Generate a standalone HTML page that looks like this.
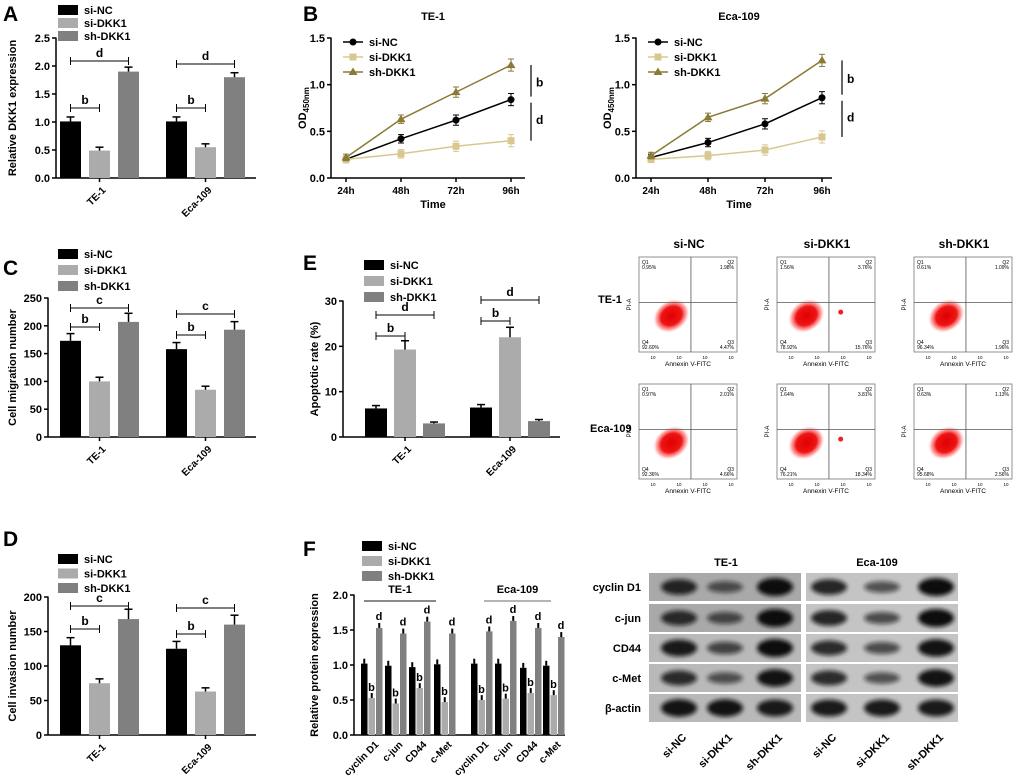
<!DOCTYPE html>
<html><head><meta charset="utf-8">
<style>
html,body{margin:0;padding:0;background:#fff;}
svg{display:block;font-family:"Liberation Sans",Arial,sans-serif;}
text{font-family:"Liberation Sans",Arial,sans-serif;}
</style></head>
<body>
<svg id="fig" width="1020" height="782" viewBox="0 0 1020 782">
<defs>
<radialGradient id="blob" cx="50%" cy="50%" r="50%">
<stop offset="0%" stop-color="#e00000"/><stop offset="55%" stop-color="#ee1515"/><stop offset="80%" stop-color="#f66" stop-opacity="0.55"/><stop offset="100%" stop-color="#fff" stop-opacity="0"/>
</radialGradient>
<filter id="blur" x="-20%" y="-50%" width="140%" height="200%"><feGaussianBlur stdDeviation="2.2"/></filter>
</defs>
</svg>
<script>
// ---------- DATA ----------
const groups = ["si-NC","si-DKK1","sh-DKK1"];
const cellLines = ["TE-1","Eca-109"];
// Panel A
const aTicks = [0,0.5,1.0,1.5,2.0,2.5];
const aNC = [1.01,1.01], aSi = [0.49,0.55], aSh = [1.90,1.80];
const aErr = [0.08,0.06,0.08];
// Panel B
const bTimes = ["24h","48h","72h","96h"];
const bTicks = [0,0.5,1.0,1.5];
const bTE_NC = [0.20,0.42,0.62,0.84], bTE_Si = [0.20,0.26,0.34,0.40], bTE_Sh = [0.22,0.63,0.92,1.21];
const bEca_NC = [0.22,0.38,0.58,0.86], bEca_Si = [0.20,0.24,0.30,0.44], bEca_Sh = [0.24,0.65,0.85,1.26];
// Panel C
const cTicks = [0,50,100,150,200,250];
const cNC = [173,158], cSi = [100,85], cSh = [207,193];
// Panel D
const dTicks = [0,50,100,150,200];
const dNC = [130,125], dSi = [75,63], dSh = [168,160];
// Panel E
const eTicks = [0,10,20,30];
const eNC = [6.3,6.5], eSi = [19.3,22.0], eSh = [3.0,3.5];
// Panel F
const fProteins = ["cyclin D1","c-jun","CD44","c-Met"];
const fTicks = [0,0.5,1.0,1.5,2.0];
const fTE_NC = [1.02,0.99,0.97,1.01], fTE_Si = [0.53,0.45,0.67,0.47], fTE_Sh = [1.53,1.45,1.62,1.45];
const fEca_NC = [1.02,1.02,0.96,0.99], fEca_Si = [0.50,0.52,0.60,0.57], fEca_Sh = [1.48,1.63,1.53,1.40];
// Flow cytometry quadrant percentages [Q1,Q2,Q3,Q4]
const flowTE = [["0.95%","1.98%","4.47%","92.60%"],["1.56%","3.76%","15.76%","78.92%"],["0.61%","1.09%","1.96%","96.34%"]];
const flowEca = [["0.97%","2.01%","4.66%","92.36%"],["1.64%","3.81%","18.34%","76.21%"],["0.63%","1.13%","2.56%","95.68%"]];
// Western blot band intensity (0..1) rows x lanes
const wbRows = ["cyclin D1","c-jun","CD44","c-Met","β-actin"];
const wbTE = [[0.8,0.45,1.0],[0.75,0.5,1.0],[0.9,0.55,1.0],[0.75,0.45,0.95],[0.95,0.95,0.9]];
const wbEca = [[0.8,0.45,1.0],[0.8,0.5,1.0],[0.75,0.5,0.95],[0.75,0.45,0.95],[0.9,0.9,0.9]];

const NS="http://www.w3.org/2000/svg";
const svg=document.getElementById('fig');
const COL=["#000","#ababab","#808080"];
const LCOL=["#000","#d8c890","#8a7a35"];
function el(tag,attrs,parent,txt){const e=document.createElementNS(NS,tag);for(const k in attrs)e.setAttribute(k,attrs[k]);if(txt!==undefined)e.textContent=txt;(parent||svg).appendChild(e);return e;}
function g(name){const e=el('g',{});


return e;}
function line(p,x1,y1,x2,y2,w,c){return el('line',{x1,y1,x2,y2,stroke:c||'#000','stroke-width':w||1.5},p);}
function txt(p,x,y,s,size,anchor,weight,extra){const t=el('text',Object.assign({x,y,'font-size':size,'text-anchor':anchor||'start','font-weight':weight||'bold',fill:'#000'},extra||{}),p,s);return t;}

function panelLetter(ch,x,y){const gg=g('panel-label-'+ch.toLowerCase());txt(gg,x,y,ch,21,'start','bold');}
function legend(name,x,y,dy,cols,lineMode){const gg=g(name);groups.forEach((s,i)=>{
 const item=el('g',{},gg);
 
 
 if(lineMode){line(item,x,y+i*dy,x+20,y+i*dy,1.5,cols[i]);el('path',{d:lineMode[i](x+10,y+i*dy),fill:cols[i]},item);txt(item,x+26,y+i*dy+4,s,11);}
 else{el('rect',{x,y:y+i*dy-5,width:20,height:10,fill:cols[i]},item);txt(item,x+26,y+i*dy+4,s,11);}
});}

function yAxis(p,x,y0,y1,ticks,fmt,label,lx){
 const sc=v=>y0-(v-ticks[0])/(ticks[ticks.length-1]-ticks[0])*(y0-y1);
 line(p,x,y0+0.5,x,y1-0.5,1.5);
 ticks.forEach(t=>{line(p,x-4,sc(t),x,sc(t),1.5);txt(p,x-6,sc(t)+4,fmt(t),11,'end');});
 if(label){const lt=txt(p,lx,(y0+y1)/2,label,11,'middle','bold',{transform:`rotate(-90 ${lx} ${(y0+y1)/2})`});
 }
 return sc;
}
function bracket(p,x1,x2,y,lab){line(p,x1,y,x2,y,1);line(p,x1,y-4,x1,y+4,1);line(p,x2,y-4,x2,y+4,1);txt(p,(x1+x2)/2,y-4,lab,12,'middle');}

function barPanel(name,cfg){
 const p=g(name);
 const sc=yAxis(p,cfg.ax,cfg.y0,cfg.y1,cfg.ticks,cfg.fmt,cfg.ylabel,cfg.lx);
 line(p,cfg.ax,cfg.y0,cfg.axEnd,cfg.y0,1.5);
 const series=[cfg.nc,cfg.si,cfg.sh];
 cellLines.forEach((cl,gi)=>{
  series.forEach((arr,si)=>{
   const x=cfg.gx[gi]+si*cfg.step, v=arr[gi], y=sc(v), e=(cfg.errs?cfg.errs[si]:v*cfg.errFrac);
   const r=el('rect',{x,y,width:cfg.bw,height:cfg.y0-y,fill:COL[si]},p);
   
   
   line(p,x+cfg.bw/2,y,x+cfg.bw/2,sc(v+e),1.5);line(p,x+cfg.bw/2-4,sc(v+e),x+cfg.bw/2+4,sc(v+e),1.5);
  });
  const cx=cfg.gx[gi]+cfg.step+cfg.bw/2;
  line(p,cx,cfg.y0,cx,cfg.y0+4,1.5);
  txt(p,cx+4,cfg.y0+14,cl,10,'end','bold',{transform:`rotate(-45 ${cx+4} ${cfg.y0+10})`});
  const sx=cfg.gx[gi]+cfg.bw/2;
  bracket(p,sx,sx+cfg.step,cfg.bY1[gi],'b');
  bracket(p,sx,sx+cfg.step*2,cfg.bY2[gi],cfg.lab2);
 });
}

// Panel A
panelLetter('A',3,21);
legend('legend-a',58,10,13,COL);
barPanel('panel-a-dkk1-expression',{ax:56,y0:178,y1:38,axEnd:256,ticks:aTicks,fmt:t=>t.toFixed(1),ylabel:'Relative DKK1 expression',lx:16,
 nc:aNC,si:aSi,sh:aSh,errs:aErr,gx:[60,166],step:29,bw:21,bY1:[108,108],bY2:[61,64],lab2:'d'});

// Panel C
panelLetter('C',3,275);
legend('legend-c',58,254,16,COL);
barPanel('panel-c-migration',{ax:48,y0:437,y1:298,axEnd:256,ticks:cTicks,fmt:t=>t,ylabel:'Cell migration number',lx:16,
 nc:cNC,si:cSi,sh:cSh,errFrac:0.075,gx:[60,166],step:29,bw:21,bY1:[327,335],bY2:[308,314],lab2:'c'});

// Panel D
panelLetter('D',3,546);
legend('legend-d',58,559,14.5,COL);
barPanel('panel-d-invasion',{ax:48,y0:735,y1:597,axEnd:256,ticks:dTicks,fmt:t=>t,ylabel:'Cell invasion number',lx:16,
 nc:dNC,si:dSi,sh:dSh,errFrac:0.085,gx:[60,166],step:29,bw:21,bY1:[629,634],bY2:[606,608],lab2:'c'});

// Panel E
panelLetter('E',303,270);
legend('legend-e',364,265,16,COL);
barPanel('panel-e-apoptosis',{ax:343,y0:437,y1:301,axEnd:560,ticks:eTicks,fmt:t=>t,ylabel:'Apoptotic rate (%)',lx:318,
 nc:eNC,si:eSi,sh:eSh,errFrac:0.1,gx:[365,470],step:29,bw:22,bY1:[336,321],bY2:[315,300],lab2:'d'});

// Panel B line charts
panelLetter('B',303,21);
const markers=[(x,y)=>`M${x-3.5},${y}a3.5,3.5 0 1,0 7,0a3.5,3.5 0 1,0 -7,0`,(x,y)=>`M${x-3.5},${y-3.5}h7v7h-7z`,(x,y)=>`M${x},${y-4.5}L${x+4.5},${y+3}L${x-4.5},${y+3}z`];
function linePanel(name,cfg){
 const p=g(name);
 const sc=yAxis(p,cfg.ax,178,38,bTicks,t=>t.toFixed(1),'',cfg.lx);
 const ly=108;
 const tt=el('text',{x:cfg.lx,y:ly,'font-size':11,'font-weight':'bold','text-anchor':'middle',transform:`rotate(-90 ${cfg.lx} ${ly})`},p);
 
 el('tspan',{},tt,'OD');el('tspan',{'font-size':8,dy:3},tt,'450nm');
 line(p,cfg.ax,178,cfg.axEnd,178,1.5);
 const xs=i=>cfg.x0+i*cfg.dx;
 bTimes.forEach((t,i)=>{line(p,xs(i),178,xs(i),182,1.5);txt(p,xs(i),194,t,10,'middle');});
 txt(p,(cfg.ax+cfg.axEnd)/2+5,208,'Time',11,'middle');
 txt(p,(cfg.ax+cfg.axEnd)/2+5,20,cfg.title,11,'middle');
 [cfg.nc,cfg.si,cfg.sh].forEach((arr,si)=>{
  const pl=el('polyline',{points:arr.map((v,i)=>xs(i)+','+sc(v)).join(' '),fill:'none',stroke:LCOL[si],'stroke-width':1.5},p);
  
  
  arr.forEach((v,i)=>{const e=0.035+0.01*i;line(p,xs(i),sc(v-e),xs(i),sc(v+e),1,LCOL[si]);line(p,xs(i)-3,sc(v+e),xs(i)+3,sc(v+e),1,LCOL[si]);line(p,xs(i)-3,sc(v-e),xs(i)+3,sc(v-e),1,LCOL[si]);
   el('path',{d:markers[si](xs(i),sc(v)),fill:LCOL[si]},p);});
 });
 const bx=cfg.x0+3*cfg.dx+20;
 line(p,bx,sc(cfg.sh[3]),bx,sc(cfg.nc[3])-3,1.2);txt(p,bx+5,(sc(cfg.sh[3])+sc(cfg.nc[3]))/2+4,'b',12);
 line(p,bx,sc(cfg.nc[3])+3,bx,sc(cfg.si[3]),1.2);txt(p,bx+5,(sc(cfg.nc[3])+sc(cfg.si[3]))/2+4,'d',12);
 legend(name+'-legend',cfg.x0-3,42,15,LCOL,markers);
}
linePanel('panel-b-te1',{ax:331,axEnd:525,lx:306,x0:346,dx:55,title:'TE-1',nc:bTE_NC,si:bTE_Si,sh:bTE_Sh});
linePanel('panel-b-eca109',{ax:636,axEnd:832,lx:611,x0:651,dx:57,title:'Eca-109',nc:bEca_NC,si:bEca_Si,sh:bEca_Sh});

// Flow cytometry
const flow=g('flow-cytometry');
const fxs=[639,777,914], fys=[257,384];
groups.forEach((s,i)=>txt(flow,fxs[i]+50,248,s,12,'middle'));
txt(flow,598,303,'TE-1',11,'start');txt(flow,590,432,'Eca-109',11,'start');
[flowTE,flowEca].forEach((rowData,ri)=>{
 rowData.forEach((q,ci)=>{
  const x=fxs[ci],y=fys[ri],w=98,h=95;
  const box=el('g',{},flow);
  
  
  el('rect',{x,y,width:w,height:h,fill:'#fff',stroke:'#777','stroke-width':0.8},box);
  const cx=x+w*0.33+(ci===1?-3:0),cy=y+h*0.62;
  el('ellipse',{cx,cy,rx:20,ry:16,fill:'url(#blob)',transform:`rotate(-35 ${cx} ${cy})`},box);
  line(box,x+w*0.53,y,x+w*0.53,y+h,0.8,'#555');line(box,x,y+h*0.48,x+w,y+h*0.48,0.8,'#555');
  if(ci===1)el('circle',{cx:x+w*0.65,cy:y+h*0.58,r:2.5,fill:'#e22'},box);
  txt(box,x+3,y+7,'Q1',5,'start','normal');txt(box,x+3,y+12,q[0],5,'start','normal');
  txt(box,x+w-3,y+7,'Q2',5,'end','normal');txt(box,x+w-3,y+12,q[1],5,'end','normal');
  txt(box,x+3,y+h-8,'Q4',5,'start','normal');txt(box,x+3,y+h-3,q[3],5,'start','normal');
  txt(box,x+w-3,y+h-8,'Q3',5,'end','normal');txt(box,x+w-3,y+h-3,q[2],5,'end','normal');
  txt(box,x-8,y+h/2,'PI-A',6,'middle','normal',{transform:`rotate(-90 ${x-8} ${y+h/2})`});
  txt(box,x+w/2,y+h+14,'Annexin V-FITC',6.5,'middle','normal');
  for(let k=0;k<4;k++){txt(box,x+14+k*26,y+h+7,'10',4.5,'middle','normal');}
 });
});

// Panel F
panelLetter('F',303,556);
legend('legend-f',362,546,15,COL);
(function(){
 const p=g('panel-f-protein-expression');
 const sc=yAxis(p,354,735,595,fTicks,t=>t.toFixed(1),'Relative protein expression',318);
 line(p,354,735,565,735,1.5);
 const gx=[[361,385,409,434],[471,495,520,543]];
 [[fTE_NC,fTE_Si,fTE_Sh],[fEca_NC,fEca_Si,fEca_Sh]].forEach((ser,ci)=>{
  fProteins.forEach((pr,pi)=>{
   ser.forEach((arr,si)=>{
    const x=gx[ci][pi]+si*7.5,v=arr[pi],y=sc(v),e=0.07;
    const r=el('rect',{x,y,width:6.5,height:735-y,fill:COL[si]},p);
    
    
    line(p,x+3.25,y,x+3.25,sc(v+e),2);
    if(si===1)txt(p,x+3,sc(v+e)-2,'b',11,'middle');
    if(si===2)txt(p,x+3,sc(v+e)-3,'d',11,'middle');
   });
   const cx=gx[ci][pi]+11;
   txt(p,cx+3,747,pr,10,'end','bold',{transform:`rotate(-45 ${cx+3} 741)`});
  });
  const x1=ci?484:364,x2=ci?551:436;
  line(p,x1,601,x2,601,1.2,ci?'#888':'#444');
  txt(p,(x1+x2)/2,593,cellLines[ci],11,'middle');
 });
})();

// Western blot
const wb=g('western-blot');
txt(wb,726,566,'TE-1',11,'middle');txt(wb,877,566,'Eca-109',11,'middle');
const rowY=[573,604,634,664,694],rowH=28;
const laneX=[[679,725,775],[829,882,936]];
wbRows.forEach((r,ri)=>{
 txt(wb,641,rowY[ri]+18,r,11,'end');
 [wbTE,wbEca].forEach((d,ci)=>{
  const bx=ci?806:649;
  const rc=el('rect',{x:bx,y:rowY[ri],width:152,height:rowH,fill:ci?'#c4c4c4':(ri<2?'#a9a9a9':'#b9b9b9')},wb);
  
  
  d[ri].forEach((v,li)=>{
   const cx=laneX[ci][li],cy=rowY[ri]+rowH/2;
   el('ellipse',{cx,cy,rx:18,ry:3+6*v,fill:'#111','fill-opacity':0.35+0.65*v,filter:'url(#blur)'},wb);
  });
 });
});
[laneX[0],laneX[1]].forEach(ls=>ls.forEach((x,i)=>{txt(wb,x+8,738,groups[i],11,'end','bold',{transform:`rotate(-45 ${x+8} 738)`});}));
</script>
</body></html>
